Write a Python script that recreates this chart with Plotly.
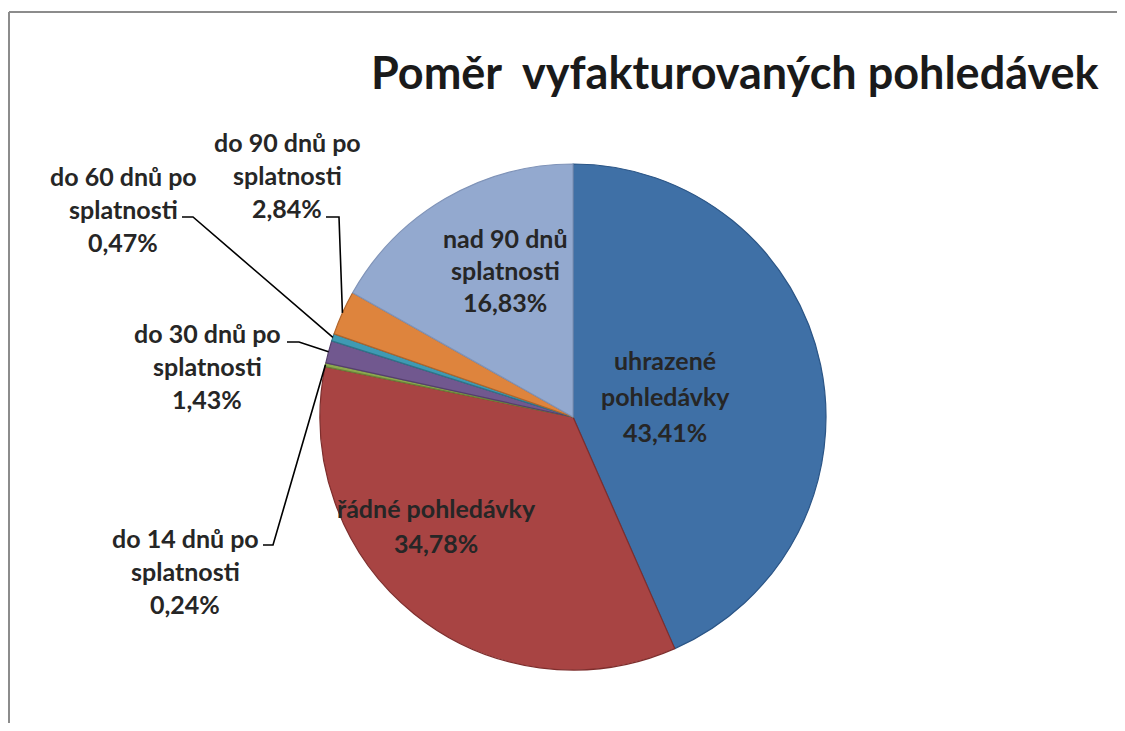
import math
import plotly.graph_objects as go

# ---- data ----
categories = [
    "uhrazené pohledávky",
    "řádné pohledávky",
    "do 14 dnů po splatnosti",
    "do 30 dnů po splatnosti",
    "do 60 dnů po splatnosti",
    "do 90 dnů po splatnosti",
    "nad 90 dnů splatnosti",
]
values = [43.41, 34.78, 0.24, 1.43, 0.47, 2.84, 16.83]
value_labels = ["43,41%", "34,78%", "0,24%", "1,43%", "0,47%", "2,84%", "16,83%"]
label_lines = [
    ["uhrazené", "pohledávky"],
    ["řádné pohledávky"],
    ["do 14 dnů po", "splatnosti"],
    ["do 30 dnů po", "splatnosti"],
    ["do 60 dnů po", "splatnosti"],
    ["do 90 dnů po", "splatnosti"],
    ["nad 90 dnů", "splatnosti"],
]
title_text = "Poměr\u00a0 vyfakturovaných pohledávek"

# ---- style / layout ----
WIN_W, WIN_H = 1125, 731
OFF = 8  # page body margin
W, H = WIN_W - 2 * OFF, WIN_H - 2 * OFF
colors = ["#3F70A6", "#A84443", "#8BA84E", "#71588F", "#3F9AB3", "#DE843D", "#93A9CF"]
edge_colors = ["#2B5586", "#7E2E2D", "#6A8239", "#553F6D", "#2D7488", "#B0652B", "#7F93B8"]
cx, cy, r = 573, 417, 253

# label positions (pixel centers of first line) and line spacing
label_pos = [
    (665, 360), (436, 508), (185, 538), (207, 333), (123, 176), (287, 142), (505, 238)
]
line_gaps = [36, 35, 33, 33, 33, 33, 32]
# leader: (horizontal start x, y, elbow x) for outside labels; None for inside
leaders = [None, None, (263, 545, 273), (287, 342, 299), (182, 217, 193), (326, 217, 339), None]

font_family = "Lato, 'Open Sans', sans-serif"
text_color = "#262626"


def px(x):
    return (x - OFF) / W


def py(y):
    return 1 - (y - OFF) / H


fig = go.Figure(
    go.Pie(
        labels=categories,
        values=values,
        sort=False,
        direction="clockwise",
        rotation=0,
        textinfo="none",
        hoverinfo="label+percent",
        marker=dict(colors=colors, line=dict(color=edge_colors, width=1.2)),
        domain=dict(x=[px(cx - r), px(cx + r)], y=[py(cy + r), py(cy - r)]),
        showlegend=False,
    )
)

annotations = []
shapes = []
total = sum(values)
cum = 0.0
for i, v in enumerate(values):
    mid = (cum + v / 2) / total * 2 * math.pi
    cum += v
    lx, ly = label_pos[i]
    lines = label_lines[i] + [value_labels[i]]
    for k, t in enumerate(lines):
        annotations.append(
            dict(
                x=px(lx), y=py(ly + k * line_gaps[i]), xref="paper", yref="paper",
                text=t, showarrow=False, xanchor="center", yanchor="middle",
                font=dict(family=font_family, size=25, color=text_color, weight="bold"),
            )
        )
    if leaders[i] is not None:
        hx, hy, ex = leaders[i]
        ex_x = cx + r * math.sin(mid)
        ex_y = cy - r * math.cos(mid)
        path = f"M {px(hx)} {py(hy)} L {px(ex)} {py(hy)} L {px(ex_x)} {py(ex_y)}"
        shapes.append(
            dict(type="path", xref="paper", yref="paper", path=path,
                 line=dict(color="black", width=1.6))
        )

# title
annotations.append(
    dict(
        x=px(735), y=py(72), xref="paper", yref="paper", text=title_text,
        showarrow=False, xanchor="center", yanchor="middle",
        font=dict(family=font_family, size=45, color="#1A1A1A", weight="bold"),
    )
)

# chart-area border (top and left edges visible)
shapes.append(dict(type="line", xref="paper", yref="paper",
                   x0=px(9), y0=py(12), x1=1.0, y1=py(12),
                   line=dict(color="#8C8C8C", width=2)))
shapes.append(dict(type="line", xref="paper", yref="paper",
                   x0=px(9), y0=py(12), x1=px(9), y1=0.0,
                   line=dict(color="#8C8C8C", width=2)))

fig.update_layout(
    width=W, height=H,
    margin=dict(l=0, r=0, t=0, b=0),
    paper_bgcolor="white", plot_bgcolor="white",
    annotations=annotations, shapes=shapes,
)

fig.write_html("out.html")
